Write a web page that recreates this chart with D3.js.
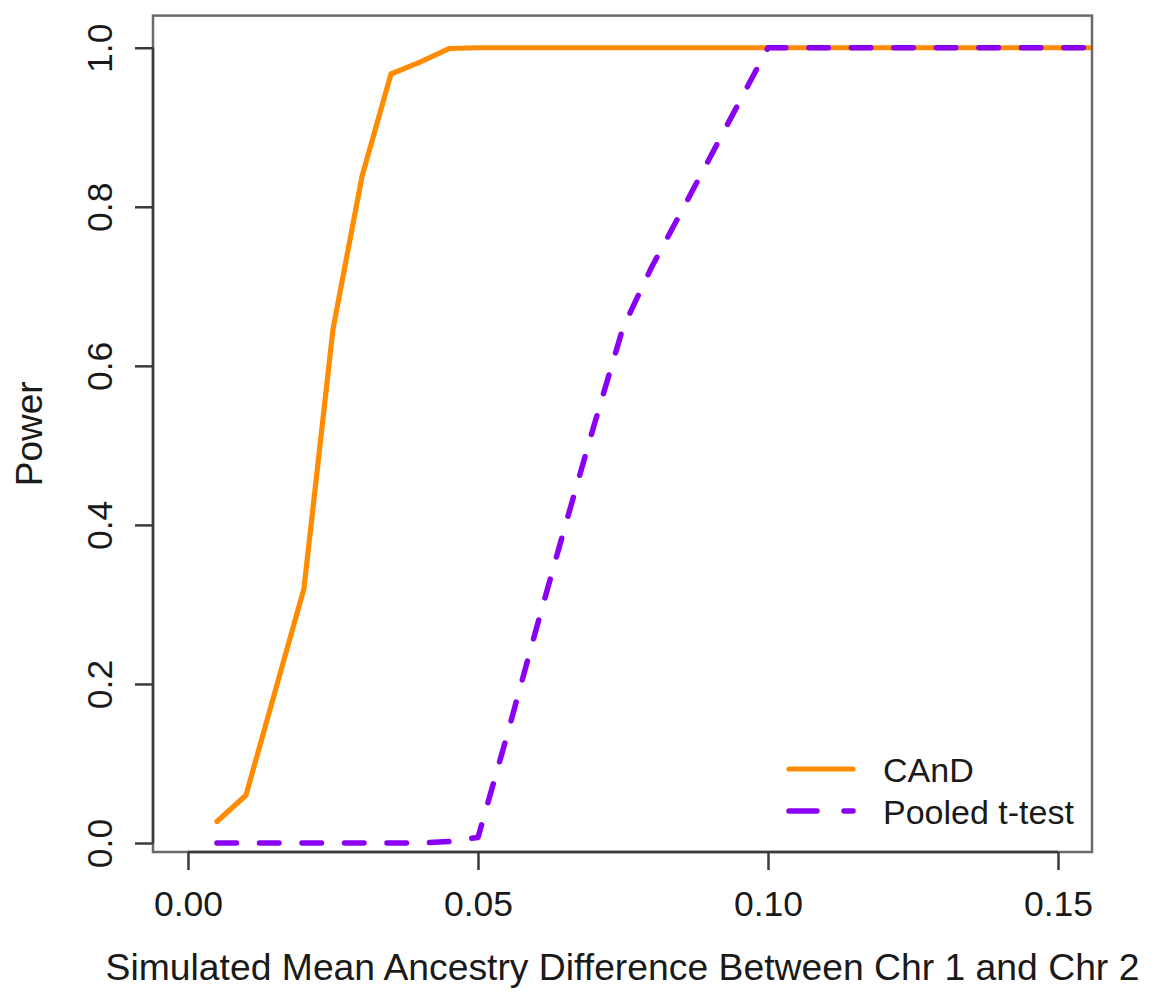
<!DOCTYPE html>
<html>
<head>
<meta charset="utf-8">
<script src="https://cdn.jsdelivr.net/npm/d3@7"></script>
<style>
  html, body { margin: 0; padding: 0; background: #fff; }
  svg { display: block; font-family: "Liberation Sans", Arial, Helvetica, sans-serif; }
</style>
</head>
<body>
<svg id="chart" width="1154" height="994"></svg>
<script>
// ---- data ----
const xValues = [0.005, 0.010, 0.015, 0.020, 0.025, 0.030, 0.035, 0.040, 0.045, 0.050,
                 0.055, 0.060, 0.065, 0.070, 0.075, 0.080, 0.085, 0.090, 0.095, 0.100,
                 0.105, 0.110, 0.115, 0.120, 0.125, 0.130, 0.135, 0.140, 0.145, 0.150,
                 0.155, 0.160];
const candPower = [0.027, 0.060, 0.190, 0.320, 0.646, 0.838, 0.967, 0.982, 0.999, 1.000,
                   1, 1, 1, 1, 1, 1, 1, 1, 1, 1,
                   1, 1, 1, 1, 1, 1, 1, 1, 1, 1,
                   1, 1];
const tTestPower = [0, 0, 0, 0, 0, 0, 0, 0, 0.002, 0.007,
                    0.135, 0.268, 0.398, 0.525, 0.648, 0.725, 0.793, 0.862, 0.931, 1.000,
                    1, 1, 1, 1, 1, 1, 1, 1, 1, 1,
                    1, 1];
const xTicks = [0.00, 0.05, 0.10, 0.15];
const xTickLabels = ["0.00", "0.05", "0.10", "0.15"];
const yTicks = [0.0, 0.2, 0.4, 0.6, 0.8, 1.0];
const yTickLabels = ["0.0", "0.2", "0.4", "0.6", "0.8", "1.0"];
const seriesNames = ["CAnD", "Pooled t-test"];
const xTitle = "Simulated Mean Ancestry Difference Between Chr 1 and Chr 2";
const yTitle = "Power";

// ---- layout ----
const box = { left: 153, right: 1092, top: 15.6, bottom: 852 };
const x = d3.scaleLinear().domain([-0.00603, 0.15586]).range([box.left, box.right]);
const y = d3.scaleLinear().domain([-0.0113, 1.0404]).range([box.bottom, box.top]);

const svg = d3.select("#chart");
const orange = "#ff8c00";
const purple = "#8a00f2";
const axisColor = "#3a3a3a";

svg.append("defs").append("clipPath").attr("id", "plotclip")
  .append("rect")
  .attr("x", box.left).attr("y", box.top)
  .attr("width", box.right - box.left).attr("height", box.bottom - box.top);

// lines
const line = (vals) => d3.line()
  .x((d, i) => x(xValues[i]))
  .y((d) => y(d))(vals);

const plot = svg.append("g").attr("clip-path", "url(#plotclip)");
plot.append("path")
  .attr("d", line(candPower))
  .attr("fill", "none").attr("stroke", orange).attr("stroke-width", 5.2)
  .attr("stroke-linejoin", "round").attr("stroke-linecap", "round");
plot.append("path")
  .attr("d", line(tTestPower))
  .attr("fill", "none").attr("stroke", purple).attr("stroke-width", 5.5)
  .attr("stroke-linejoin", "round").attr("stroke-linecap", "round")
  .attr("stroke-dasharray", "19.5 23");

// box
svg.append("rect")
  .attr("x", box.left).attr("y", box.top)
  .attr("width", box.right - box.left).attr("height", box.bottom - box.top)
  .attr("fill", "none").attr("stroke", "#6a6a6a").attr("stroke-width", 2.5);

// x axis
const xAxis = d3.axisBottom(x).tickValues(xTicks)
  .tickFormat((d, i) => xTickLabels[i]).tickSize(18).tickPadding(0).tickSizeOuter(0);
const gx = svg.append("g").attr("transform", `translate(0,${box.bottom})`).call(xAxis);
gx.select(".domain").remove();
gx.append("line")
  .attr("x1", x(xTicks[0])).attr("x2", x(xTicks[xTicks.length - 1]))
  .attr("y1", 0).attr("y2", 0).attr("stroke", axisColor).attr("stroke-width", 2.5);
gx.selectAll(".tick line").attr("stroke", axisColor).attr("stroke-width", 2.5);
gx.selectAll(".tick text")
  .attr("y", 64).attr("dy", null)
  .attr("fill", "#1a1a1a").attr("font-size", 35.5)
  .attr("font-family", "Liberation Sans, Arial, sans-serif");

// y axis
const yAxis = d3.axisLeft(y).tickValues(yTicks)
  .tickFormat((d, i) => yTickLabels[i]).tickSize(18).tickPadding(0).tickSizeOuter(0);
const gy = svg.append("g").attr("transform", `translate(${box.left},0)`).call(yAxis);
gy.select(".domain").remove();
gy.append("line")
  .attr("y1", y(yTicks[0])).attr("y2", y(yTicks[yTicks.length - 1]))
  .attr("x1", 0).attr("x2", 0).attr("stroke", axisColor).attr("stroke-width", 2.5);
gy.selectAll(".tick line").attr("stroke", axisColor).attr("stroke-width", 2.5);
gy.selectAll(".tick text")
  .attr("x", null).attr("dy", null)
  .attr("text-anchor", "middle")
  .attr("transform", "translate(-41,0) rotate(-90)")
  .attr("fill", "#1a1a1a").attr("font-size", 35.5)
  .attr("font-family", "Liberation Sans, Arial, sans-serif");

// titles
svg.append("text")
  .attr("x", (box.left + box.right) / 2).attr("y", 980)
  .attr("text-anchor", "middle").attr("font-size", 37.3).attr("fill", "#1a1a1a")
  .text(xTitle);
svg.append("text")
  .attr("transform", `translate(42,${(box.top + box.bottom) / 2}) rotate(-90)`)
  .attr("text-anchor", "middle").attr("font-size", 37).attr("fill", "#1a1a1a")
  .text(yTitle);

// legend
const legend = svg.append("g");
const legendRows = [
  { name: seriesNames[0], color: orange, dash: null, width: 5.2, ly: 769 },
  { name: seriesNames[1], color: purple, dash: "28 27", width: 5.5, ly: 811 }
];
legendRows.forEach(r => {
  legend.append("line")
    .attr("x1", 789).attr("x2", 853).attr("y1", r.ly).attr("y2", r.ly)
    .attr("stroke", r.color).attr("stroke-width", r.width)
    .attr("stroke-linecap", "round")
    .attr("stroke-dasharray", r.dash);
  legend.append("text")
    .attr("x", 883).attr("y", r.ly + 13)
    .attr("font-size", 34).attr("fill", "#1a1a1a")
    .text(r.name);
});
</script>
</body>
</html>
